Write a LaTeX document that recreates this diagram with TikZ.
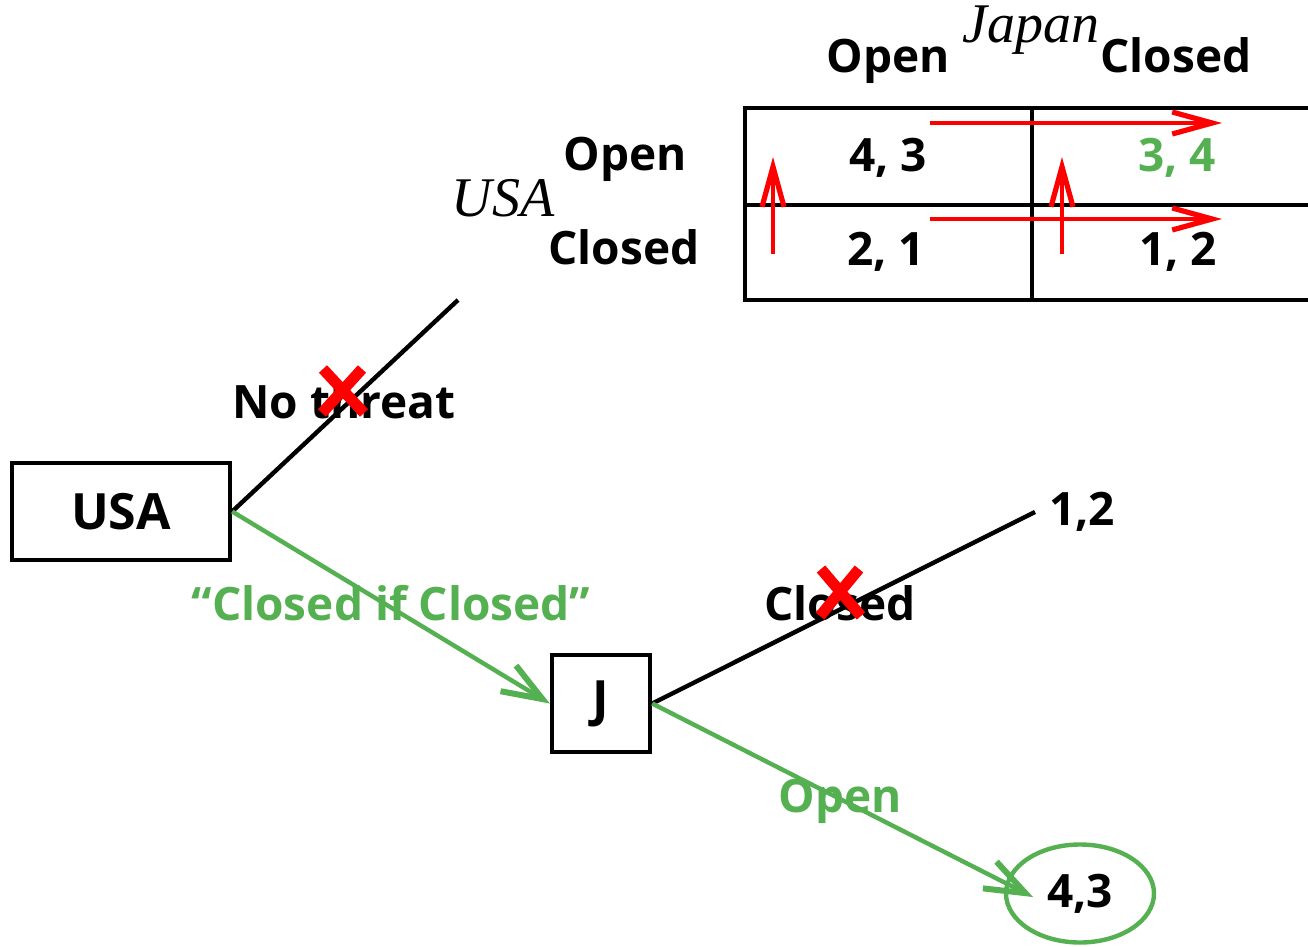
\documentclass[tikz,border=0pt]{standalone}
\usepackage{fontspec}
\setmainfont{Open Sans}
\newfontfamily\itserif{Liberation Serif}
\usetikzlibrary{arrows.meta,shapes.geometric}
\definecolor{payoffgreen}{RGB}{84,176,80}
\tikzset{every picture/.style={line width=2.2pt}}
\tikzset{
  lbl/.style={font=\fontsize{23}{28}\selectfont\bfseries,inner sep=0.75pt,anchor=base},
  itlbl/.style={font=\fontsize{28}{32}\selectfont\itserif\itshape,inner sep=0.75pt,anchor=base},
  movebox/.style={draw,line width=2.2pt,font=\fontsize{25}{30}\selectfont\bfseries,inner sep=0pt},
  greenarrow/.style={draw=payoffgreen,line width=2.2pt,-{Straight Barb[length=20pt,width=15pt,line width=3pt]}},
  redarrow/.style={draw=red,line width=2.2pt,-{Straight Barb[length=20pt,width=11pt,line width=2.6pt]}},
  xmark/.style={draw=red,line width=5.5pt}
}

\begin{document}
\begin{tikzpicture}[x=0.5pt,y=0.5pt,yscale=-1,xscale=1]
\useasboundingbox (0,0) rectangle (1308,947);

%Tree nodes
\node [movebox,minimum width=109pt,minimum height=48.5pt] (usa) at (121,511.5) {USA};
\node [movebox,minimum width=49pt,minimum height=48.5pt] (jbox) at (601,703.5) {J};
\coordinate (nothreat) at (458,300);
\coordinate (jclosed) at (1035,512);
\node [lbl] (pay12) at (1082,525) {1,2};
\node [ellipse,draw=payoffgreen,line width=2.2pt,minimum width=74pt,minimum height=49pt,inner sep=0pt,font=\fontsize{23}{28}\selectfont\bfseries] (pay43) at (1080,893.5) {4,3};

%Branches
\draw (usa.east) -- (nothreat);
\draw [greenarrow] (usa.east) -- (jbox.west);
\draw (jbox.east) -- (jclosed);
\draw [greenarrow] (jbox.east) -- (1033,897);

% Branch labels
\node [lbl] (lnothreat) at (344,418) {No threat};
\node [lbl,text=payoffgreen] (lcic) at (391,620) {“Closed if Closed”};
\node [lbl] (lclosed) at (840,620) {Closed};
\node [lbl,text=payoffgreen] (lopen) at (840,812) {Open};

% Crossed out moves
\draw [xmark] (323,369) -- (364,413);
\draw [xmark] (362,369) -- (322,413);
\draw [xmark] (821,569) -- (861,616);
\draw [xmark] (859,569) -- (820,616);

%Payoff table
\draw (1308,108) -- (745,108) -- (745,300) -- (1308,300);
\draw (745,205) -- (1308,205);
\draw (1032,108) -- (1032,300);

% Table labels
\node [itlbl] (japan) at (1031,43) {Japan};
\node [lbl] (jopen) at (888,73) {Open};
\node [lbl] (jclosedhd) at (1176,73) {Closed};
\node [itlbl] (usahd) at (503,217) {USA};
\node [lbl] (uopen) at (625,170) {Open};
\node [lbl] (uclosed) at (624,264) {Closed};
\node [lbl] (oo) at (888,172) {4, 3};
\node [lbl,text=payoffgreen] (oc) at (1177,172) {3, 4};
\node [lbl] (co) at (886,265) {2, 1};
\node [lbl] (cc) at (1178,265) {1, 2};

% Best responses
\draw [redarrow] (930,123) -- (1222,123);
\draw [redarrow] (930,219) -- (1222,219);
\draw [redarrow] (773,254) -- (773,157);
\draw [redarrow] (1062,254) -- (1062,157);
\end{tikzpicture}
\end{document}
